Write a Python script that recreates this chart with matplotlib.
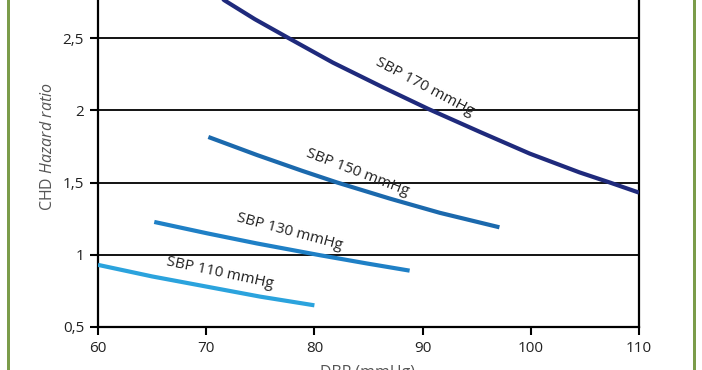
import matplotlib
matplotlib.use('Agg')
import matplotlib.pyplot as plt
from matplotlib.patches import Rectangle

plt.rcParams['font.family'] = ['Open Sans', 'DejaVu Sans']
plt.rcParams['mathtext.fontset'] = 'custom'
plt.rcParams['mathtext.rm'] = 'Open Sans'
plt.rcParams['mathtext.it'] = 'Open Sans:italic'

# values (DBP in mmHg, CHD hazard ratio)
dbp_170 = [70, 71.7, 74.5, 77.6, 81.7, 86.3, 90.5, 95.3, 99.9, 104.5, 107.3, 110]
hr_170 = [2.86, 2.76, 2.63, 2.50, 2.33, 2.16, 2.01, 1.85, 1.70, 1.57, 1.50, 1.43]
dbp_150 = [70.2, 74.7, 78.9, 82.1, 87.0, 91.6, 97.1]
hr_150 = [1.815, 1.69, 1.58, 1.50, 1.388, 1.29, 1.19]
dbp_130 = [65.2, 70.1, 74.7, 80.5, 84.9, 88.8]
hr_130 = [1.227, 1.148, 1.078, 0.997, 0.939, 0.89]
dbp_110 = [60, 65, 70, 75, 80]
hr_110 = [0.93, 0.85, 0.78, 0.71, 0.65]

series_names = ['SBP 170 mmHg', 'SBP 150 mmHg', 'SBP 130 mmHg', 'SBP 110 mmHg']
x_ticks = [60, 70, 80, 90, 100, 110]
y_ticks = [0.5, 1, 1.5, 2, 2.5]
y_tick_labels = ['0,5', '1', '1,5', '2', '2,5']

colors = ['#1f2a7c', '#1b69ad', '#1f80c6', '#2ba3dd']

fig = plt.figure(figsize=(7.02, 3.70), dpi=100)
ax = fig.add_axes([98/702, 43/370, 541/702, 327/370])

for yv in y_ticks[1:]:
    ax.axhline(yv, color='black', lw=1.3, zorder=1)

xs = [dbp_170, dbp_150, dbp_130, dbp_110]
ys = [hr_170, hr_150, hr_130, hr_110]
for x, y, c in zip(xs, ys, colors):
    ax.plot(x, y, color=c, lw=3.0, solid_capstyle='butt',
            solid_joinstyle='round', zorder=3)

# curve labels, rotated along the curves
lab_x = [90.2, 84.0, 77.7, 71.3]
lab_y = [2.16, 1.57, 1.157, 0.874]
lab_rot = [-28, -21, -15, -12]
for name, lx, ly, r in zip(series_names, lab_x, lab_y, lab_rot):
    ax.text(lx, ly, name, rotation=r, ha='center', va='center',
            fontsize=11, color='#222222', zorder=4)

ax.set_xlim(60, 110)
ax.set_ylim(0.5, 0.5 + 327/144.5)
ax.set_xticks(x_ticks)
ax.set_xticklabels([str(v) for v in x_ticks])
ax.set_yticks(y_ticks)
ax.set_yticklabels(y_tick_labels)
ax.tick_params(direction='out', length=6, width=1.5, color='black',
               labelsize=11, labelcolor='#222222', pad=4)

for side in ['left', 'right', 'bottom']:
    ax.spines[side].set_linewidth(1.6)
    ax.spines[side].set_color('black')
ax.spines['top'].set_visible(False)

ax.set_ylabel(r'CHD $\mathit{Hazard\ ratio}$', fontsize=11.5, color='#555555')
ax.yaxis.set_label_coords(-0.077, 0.553)

fig.text(368/702, -3/370, 'DBP (mmHg)', ha='center', va='center',
         fontsize=11.5, color='#555555')

# green frame lines at the sides
fig.add_artist(Rectangle((7/702, -0.1), 2.5/702, 1.2, transform=fig.transFigure,
                         color='#7b9c4a', lw=0))
fig.add_artist(Rectangle((693/702, -0.1), 2.5/702, 1.2, transform=fig.transFigure,
                         color='#7b9c4a', lw=0))

fig.savefig('out.png', dpi=100)
